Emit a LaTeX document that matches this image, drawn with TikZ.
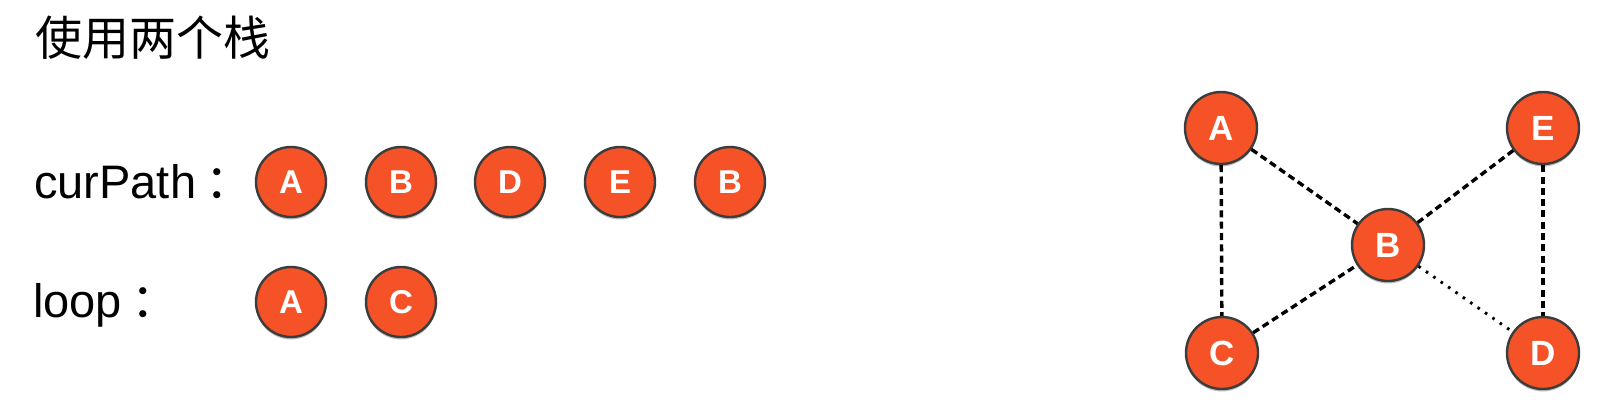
\documentclass[tikz,border=0pt]{standalone}
\usepackage{fontspec}
\setmainfont{Liberation Sans}
\newfontfamily\cjk{Noto Sans CJK SC}
\usetikzlibrary{shadows}
\definecolor{nodefill}{HTML}{F65228}
\definecolor{nodeline}{HTML}{3C3C3C}
\tikzset{
  vtx/.style={circle, minimum size=70pt, inner sep=0pt, fill=nodefill, draw=nodeline,
    line width=2.4pt, text=white, font=\bfseries\fontsize{33}{33}\selectfont,
    drop shadow={shadow xshift=0pt, shadow yshift=-2.5pt, opacity=0.25, fill=black}},
  gvtx/.style={vtx, minimum size=72pt, font=\bfseries\fontsize{35}{35}\selectfont},
  lbl/.style={anchor=base west, inner sep=0pt, font=\fontsize{47}{47}\selectfont},
  dashedge/.style={line width=3.4pt, dash pattern=on 7pt off 4.3pt},
  dotedge/.style={line width=2.9pt, dash pattern=on 2.6pt off 6.4pt}
}
\begin{document}
\begin{tikzpicture}[x=1pt, y=-1pt]
\useasboundingbox (0,0) rectangle (1614,402);
% title and row labels
\node[lbl] (title) at (35,55) {\cjk 使用两个栈};
\node[lbl] (curlbl) at (34,198) {curPath\kern9pt{\cjk ：}};
\node[lbl] (looplbl) at (33,317) {loop\kern9pt{\cjk ：}};
% curPath stack
\node[vtx] (p1) at (291,182) {A};
\node[vtx] (p2) at (401,182) {B};
\node[vtx] (p3) at (510,182) {D};
\node[vtx] (p4) at (620,182) {E};
\node[vtx] (p5) at (730,182) {B};
% loop stack
\node[vtx] (l1) at (291,302) {A};
\node[vtx] (l2) at (401,302) {C};
% graph
\node[gvtx] (gA) at (1221,128) {A};
\node[gvtx] (gE) at (1543,128) {E};
\node[gvtx] (gB) at (1388,245) {B};
\node[gvtx] (gC) at (1222,353) {C};
\node[gvtx] (gD) at (1543,353) {D};
\draw[dashedge] (gA) -- (gC);
\draw[dashedge] (gA) -- (gB);
\draw[dashedge] (gE) -- (gB);
\draw[dashedge] (gE) -- (gD);
\draw[dashedge] (gC) -- (gB);
\draw[dotedge] (gB) -- (gD);
\end{tikzpicture}
\end{document}
